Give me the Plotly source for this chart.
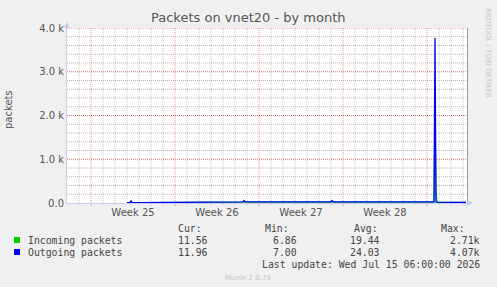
import plotly.graph_objects as go

# ---- data (hours from left edge of the month window; 2 h per pixel) ----
out_hours = [120, 126, 128, 130, 140, 180, 220, 248, 250, 280, 320, 352, 354, 356, 400, 450,
             500, 528, 530, 532, 580, 640, 700, 734, 736, 738, 740, 760, 780, 798]
out_vals = [8, 8, 45, 9, 8, 8, 9, 9, 25, 24, 25, 25, 55, 25, 24, 25,
            24, 24, 55, 24, 25, 24, 24, 24, 3770, 24, 22, 20, 15, 12]
in_hours = [120, 126, 128, 130, 140, 180, 220, 248, 250, 280, 320, 352, 354, 356, 400, 450,
            500, 528, 530, 532, 580, 640, 700, 734, 736, 738, 740, 760, 780, 798]
in_vals = [7, 7, 38, 8, 7, 7, 8, 8, 20, 19, 20, 20, 45, 20, 19, 20,
           19, 19, 45, 19, 20, 19, 19, 19, 2000, 230, 15, 16, 13, 11.5]

week_bounds = [48, 216, 384, 552, 720]
week_mids = [132, 300, 468, 636]
week_labels = ["Week 25", "Week 26", "Week 27", "Week 28"]
day_lines = [d for d in range(24, 800, 24) if d not in week_bounds]

y_ticks = [0, 1000, 2000, 3000, 4000]
y_labels = ["0.0", "1.0 k", "2.0 k", "3.0 k", "4.0 k"]
y_minor = [v for v in range(200, 4000, 200) if v not in y_ticks]

legend_names = ["Incoming packets", "Outgoing packets"]
legend_colors = ["#00cc00", "#0000ff"]
cur_vals = ["11.56", "11.96"]
min_vals = ["6.86", "7.00"]
avg_vals = ["19.44", "24.03"]
max_vals = ["2.71k", "4.07k"]

W, H = 497, 287
L, R, T, B = 67, 30, 28, 84
PW, PH = W - L - R, H - T - B

RED = "#e89494"
RED_H = "#dc7070"
GRAY = "#c8c8c8"
GRAY_H = "#b4b4b4"
AXIS = "#c8cce8"
DASH = "1px,1px"


def px(x):
    return (x - L) / PW


def py(y):
    return (H - B - y) / PH


fig = go.Figure()
fig.add_trace(go.Scatter(x=in_hours, y=in_vals, mode="lines", name=legend_names[0],
                         line=dict(color=legend_colors[0], width=1.3), showlegend=False))
fig.add_trace(go.Scatter(x=out_hours, y=out_vals, mode="lines", name=legend_names[1],
                         line=dict(color=legend_colors[1], width=1.3), showlegend=False))
fig.add_trace(go.Scatter(x=[0], y=[0], yaxis="y2", mode="markers",
                         marker=dict(opacity=0), showlegend=False, hoverinfo="skip"))

tickfont = dict(family="DejaVu Sans", size=10, color="#555555")
fig.update_layout(
    width=W, height=H,
    margin=dict(l=L, r=R, t=T, b=B, pad=0),
    paper_bgcolor="#f0f0f0", plot_bgcolor="#ffffff",
    xaxis=dict(range=[0, 800], tickmode="array", tickvals=week_mids, ticktext=week_labels,
               showgrid=False, zeroline=False, ticks="", tickfont=tickfont,
               showline=True, linecolor=AXIS, linewidth=1),
    yaxis=dict(range=[0, 4000], tickmode="array", tickvals=y_ticks, ticktext=y_labels,
               showgrid=False, zeroline=False, tickfont=tickfont, ticks="",
               showline=True, linecolor=AXIS, linewidth=1),
    yaxis2=dict(range=[0, 4000], overlaying="y", side="right", showgrid=False,
                showticklabels=False, ticks="", zeroline=False,
                showline=True, linecolor="#999999", linewidth=1),
)

shapes = []
# grid lines, placed through the axes' own scales
for d in day_lines:
    shapes.append(dict(type="line", xref="x", yref="paper", x0=d, x1=d, y0=0, y1=1,
                       line=dict(color=GRAY, width=1, dash=DASH), layer="below"))
    shapes.append(dict(type="line", xref="x", yref="paper", x0=d, x1=d, y0=0, y1=-2 / PH,
                       line=dict(color=GRAY, width=1), layer="below"))
for v in y_minor:
    shapes.append(dict(type="line", xref="paper", yref="y", x0=0, x1=1, y0=v, y1=v,
                       line=dict(color=GRAY_H, width=1, dash=DASH), layer="below"))
for w in week_bounds:
    shapes.append(dict(type="line", xref="x", yref="paper", x0=w, x1=w, y0=0, y1=1,
                       line=dict(color=RED, width=1, dash=DASH), layer="below"))
    shapes.append(dict(type="line", xref="x", yref="paper", x0=w, x1=w, y0=0, y1=-3 / PH,
                       line=dict(color=RED, width=1), layer="below"))
for v in y_ticks[1:]:
    shapes.append(dict(type="line", xref="paper", yref="y", x0=0, x1=1, y0=v, y1=v,
                       line=dict(color=RED_H, width=1, dash=DASH), layer="below"))

ann = []
ann.append(dict(text="Packets on vnet20 - by month", x=px(248), y=py(18), xref="paper", yref="paper",
                showarrow=False, xanchor="center", yanchor="middle",
                font=dict(family="DejaVu Sans", size=13, color="#555555")))
ann.append(dict(text="packets", x=px(9), y=py(110), xref="paper", yref="paper", textangle=-90,
                showarrow=False, xanchor="center", yanchor="middle",
                font=dict(family="DejaVu Sans", size=10, color="#555555")))
ann.append(dict(text="RRDTOOL / TOBI OETIKER", x=px(488), y=py(53), xref="paper", yref="paper",
                textangle=90, showarrow=False, xanchor="center", yanchor="middle",
                font=dict(family="DejaVu Sans", size=7, color="#c4c4c4")))
ann.append(dict(text="Munin 2.0.75", x=px(248), y=py(278), xref="paper", yref="paper",
                showarrow=False, xanchor="center", yanchor="middle",
                font=dict(family="DejaVu Sans", size=7, color="#c4c4c4")))

mono = dict(family="DejaVu Sans Mono", size=9.8, color="#444444")
headers = [("Cur:", 204), ("Min:", 291), ("Avg:", 380), ("Max:", 467)]
for txt, xr in headers:
    ann.append(dict(text=txt, x=px(xr), y=py(228), xref="paper", yref="paper", showarrow=False,
                    xanchor="right", yanchor="middle", font=mono))
rows_y = [240, 252]
for i in range(2):
    yy = rows_y[i]
    ann.append(dict(text=legend_names[i], x=px(26), y=py(yy), xref="paper", yref="paper",
                    showarrow=False, xanchor="left", yanchor="middle", font=mono))
    shapes.append(dict(type="rect", xref="paper", yref="paper", x0=px(14), x1=px(20),
                       y0=py(yy + 3), y1=py(yy - 3), fillcolor=legend_colors[i], line=dict(width=0)))
    for vals, xr in [(cur_vals, 210), (min_vals, 299), (avg_vals, 382), (max_vals, 482)]:
        ann.append(dict(text=vals[i], x=px(xr), y=py(yy), xref="paper", yref="paper",
                        showarrow=False, xanchor="right", yanchor="middle", font=mono))
ann.append(dict(text="Last update: Wed Jul 15 06:00:00 2026", x=px(482), y=py(264), xref="paper",
                yref="paper", showarrow=False, xanchor="right", yanchor="middle", font=mono))

shapes.append(dict(type="path", xref="paper", yref="paper",
                   path=f"M {px(64)} {py(28)} L {px(70)} {py(28)} L {px(67)} {py(22)} Z",
                   fillcolor=AXIS, line=dict(width=0)))
shapes.append(dict(type="path", xref="paper", yref="paper",
                   path=f"M {px(467)} {py(200)} L {px(467)} {py(206)} L {px(473)} {py(203)} Z",
                   fillcolor=AXIS, line=dict(width=0)))

fig.update_layout(annotations=ann, shapes=shapes)
fig.write_html("out.html")
